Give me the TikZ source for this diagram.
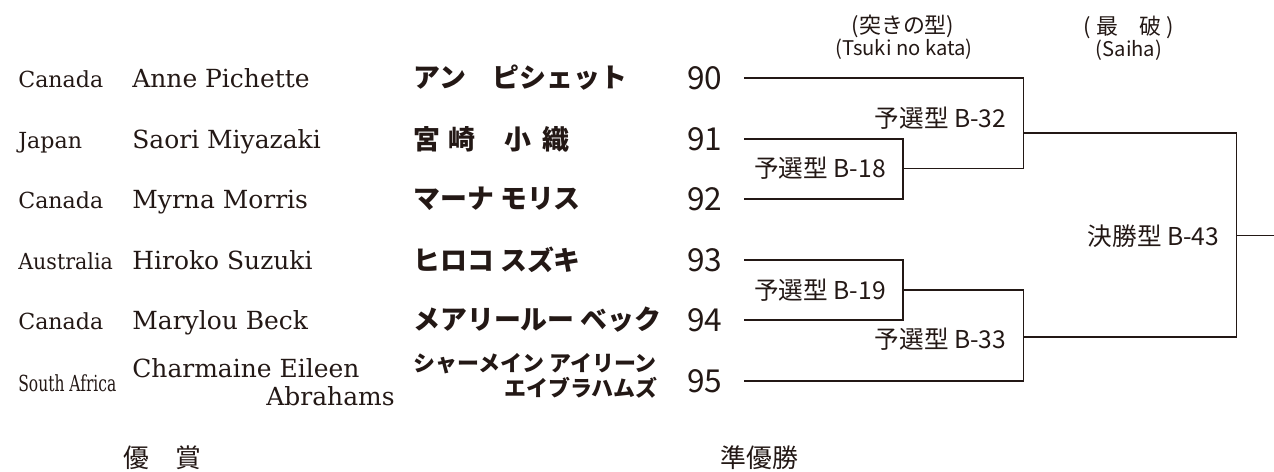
\documentclass[tikz,border=0pt]{standalone}
\usepackage{fontspec}
\newfontfamily\jpfont{Noto Sans CJK JP}
\newfontfamily\enfont{DejaVu Serif}
\definecolor{ink}{RGB}{35,24,21}

\begin{document}
\begin{tikzpicture}[color=ink,
    country/.style={anchor=base west,inner sep=0pt,font=\enfont\fontsize{12.6}{15}\selectfont},
    player/.style={anchor=base west,inner sep=0pt,font=\enfont\fontsize{14.2}{17}\selectfont},
    kana/.style={anchor=west,inner sep=0pt,font=\jpfont\bfseries\fontsize{15.3}{17}\selectfont},
    smallkana/.style={inner sep=0pt,font=\jpfont\bfseries\fontsize{12.5}{14}\selectfont},
    entry/.style={anchor=west,inner sep=0pt,font=\jpfont\fontsize{18}{20}\selectfont},
    bout/.style={anchor=east,inner sep=0pt,font=\jpfont\fontsize{14}{16}\selectfont},
    head/.style={inner sep=0pt,font=\jpfont\fontsize{12.5}{14}\selectfont},
    subhead/.style={inner sep=0pt,font=\jpfont\fontsize{11.5}{13}\selectfont},
    award/.style={anchor=north west,inner sep=0pt,font=\jpfont\fontsize{14.7}{16}\selectfont},
    bline/.style={line width=0.8pt}
]
    % Frame
    \useasboundingbox (0,0) rectangle (25.48,-9.44);
    \clip (0,0) rectangle (25.48,-9.44);
    % Headers
    \node[head] (kata) at (18.06,-0.52) {(突きの型)};
    \node[subhead] (katasub) at (18.08,-0.99) {(Tsuki no kata)};
    \node[head] (saiha) at (22.58,-0.54) {(\ 最　破\ )};
    \node[subhead] (saihasub) at (22.58,-1.0) {(Saiha)};
    % Countries
    \node[country] (c90) at (0.36,-1.75) {Canada};
    \node[country] (c91) at (0.36,-2.97) {Japan};
    \node[country] (c92) at (0.36,-4.17) {Canada};
    \node[country] (c93) at (0.36,-5.39) {\scalebox{0.93}[1]{Australia}};
    \node[country] (c94) at (0.36,-6.59) {Canada};
    \node[country] (c95) at (0.36,-7.82) {\scalebox{0.70}[1]{South Africa}};
    % Names
    \node[player] (p90) at (2.64,-1.75) {Anne Pichette};
    \node[player] (p91) at (2.64,-2.97) {Saori Miyazaki};
    \node[player] (p92) at (2.64,-4.17) {Myrna Morris};
    \node[player] (p93) at (2.64,-5.39) {Hiroko Suzuki};
    \node[player] (p94) at (2.64,-6.59) {Marylou Beck};
    \node[player] (p95) at (2.64,-7.54) {Charmaine Eileen};
    \node[player,anchor=base east] (p95b) at (7.9,-8.10) {Abrahams};
    % Names in kana
    \node[kana] (k90) at (8.26,-1.56) {アン　ピシェット};
    \node[kana] (k91) at (8.26,-2.78) {宮\hspace{0.3em}崎\hspace{1.1em}小\hspace{0.4em}織};
    \node[kana] (k92) at (8.26,-3.98) {マーナ モリス};
    \node[kana] (k93) at (8.26,-5.20) {ヒロコ スズキ};
    \node[kana] (k94) at (8.26,-6.40) {メアリールー ベック};
    \node[smallkana,anchor=west] (k95) at (8.26,-7.28) {シャーメイン アイリーン};
    \node[smallkana,anchor=east] (k95b) at (13.16,-7.76) {エイブラハムズ};
    % Entry numbers
    \node[entry] (n90) at (13.74,-1.56) {90};
    \node[entry] (n91) at (13.74,-2.78) {91};
    \node[entry] (n92) at (13.74,-3.98) {92};
    \node[entry] (n93) at (13.74,-5.20) {93};
    \node[entry] (n94) at (13.74,-6.40) {94};
    \node[entry] (n95) at (13.74,-7.62) {95};
    % Bracket
    \coordinate (s90) at (14.88,-1.56);
    \coordinate (s91) at (14.88,-2.78);
    \coordinate (s92) at (14.88,-3.98);
    \coordinate (s93) at (14.88,-5.20);
    \coordinate (s94) at (14.88,-6.40);
    \coordinate (s95) at (14.88,-7.62);
    \coordinate (v18) at (18.06,-3.37);
    \coordinate (v19) at (18.06,-5.80);
    \coordinate (v32) at (20.47,-2.66);
    \coordinate (v33) at (20.47,-6.74);
    \coordinate (v43) at (24.73,-4.71);
    \coordinate (win) at (25.6,-4.71);
    \draw[bline] (s91) -| (v18) |- (s92);
    \draw[bline] (s93) -| (v19) |- (s94);
    \draw[bline] (s90) -| (v32) |- (v18);
    \draw[bline] (s95) -| (v33) |- (v19);
    \draw[bline] (v32) -| (v43) |- (v33);
    \draw[bline] (v43) -- (win);
    % Bout labels
    \node[bout] (b18) at (17.72,-3.37) {予選型 B-18};
    \node[bout] (b19) at (17.72,-5.80) {予選型 B-19};
    \node[bout] (b32) at (20.13,-2.36) {予選型 B-32};
    \node[bout] (b33) at (20.13,-6.78) {予選型 B-33};
    \node[bout] (b43) at (24.39,-4.72) {決勝型 B-43};
    % Awards
    \node[award] (first) at (2.46,-8.9) {優　賞};
    \node[award] (second) at (14.4,-8.9) {準優勝};
\end{tikzpicture}
\end{document}
